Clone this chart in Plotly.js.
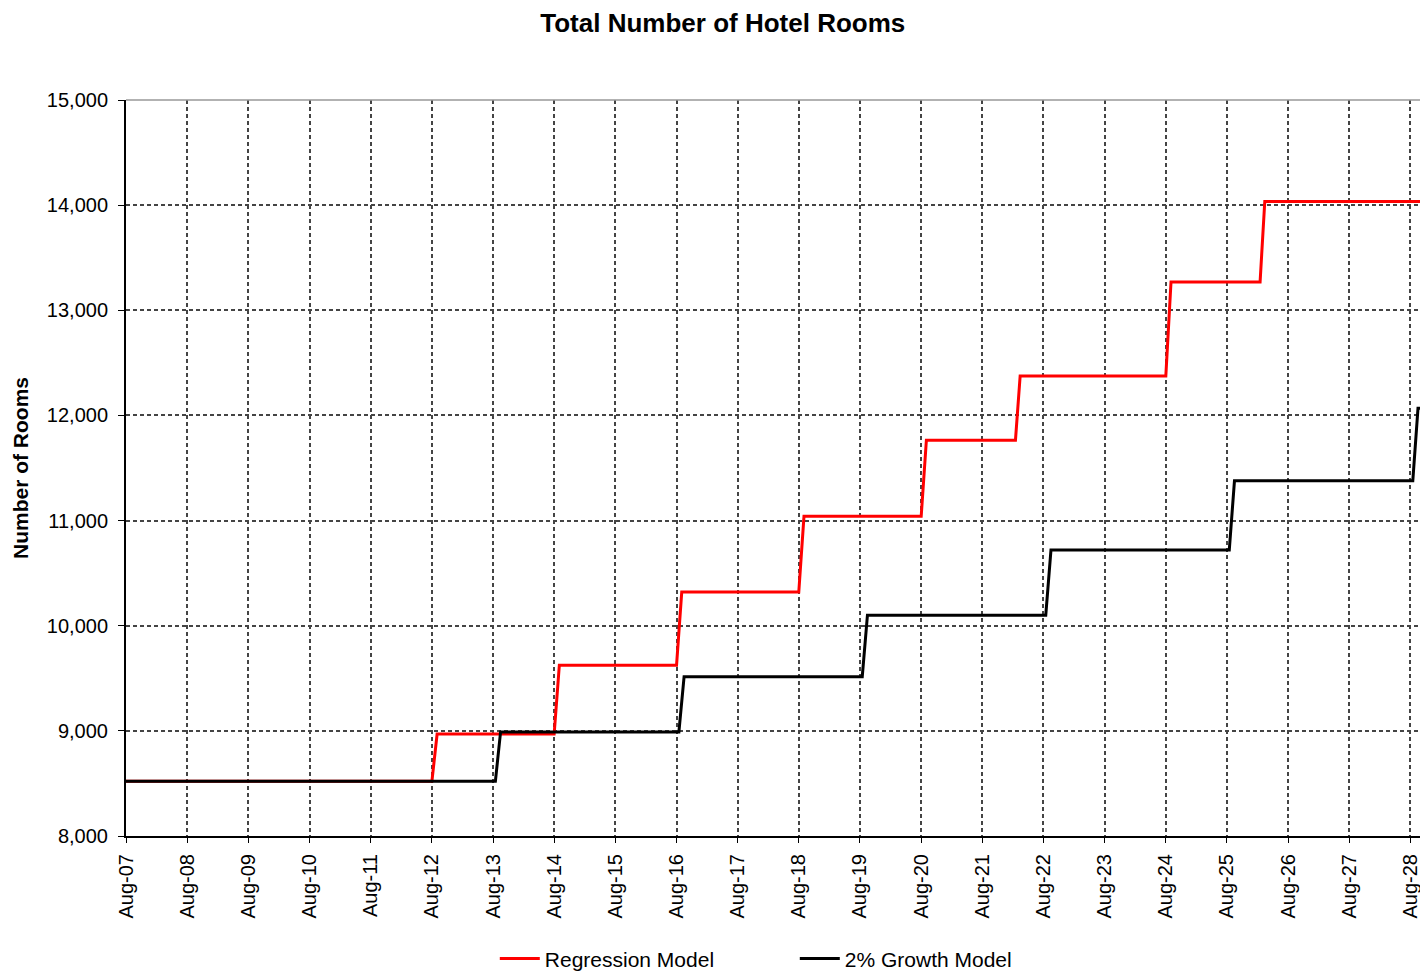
<!DOCTYPE html>
<html>
<head>
<meta charset="utf-8">
<script src="https://cdn.plot.ly/plotly-3.0.1.min.js"></script>
<style>html,body{margin:0;padding:0;background:#fff;}#chart{width:1420px;height:974px;}</style>
</head>
<body>
<div id="chart"></div>
<script>
// Step corners of each series (date, rooms)
const regressionDates = ['2007-08-01','2012-08-01','2012-09-01','2014-08-01','2014-09-01','2016-08-01','2016-09-01','2018-08-01','2018-09-01','2020-08-01','2020-09-01','2022-02-15','2022-03-15','2024-08-01','2024-09-01','2026-02-15','2026-03-15','2028-12-01'];
const regressionValues = [8520,8520,8970,8970,9625,9625,10320,10320,11040,11040,11765,11765,12375,12375,13270,13270,14035,14035];

const growthDates = ['2007-08-01','2013-08-15','2013-09-15','2016-08-15','2016-09-15','2019-08-15','2019-09-15','2022-08-15','2022-09-15','2025-08-15','2025-09-15','2028-08-15','2028-09-15','2028-12-01'];
const growthValues = [8520,8520,8990,8990,9515,9515,10100,10100,10720,10720,11378,11378,12068,12068];

const seriesNames = ['Regression Model','2% Growth Model'];
const yTickValues = [8000,9000,10000,11000,12000,13000,14000,15000];

const FONT = 'Liberation Sans, Arial, sans-serif';

const traces = [
  {x: regressionDates, y: regressionValues, name: seriesNames[0], type: 'scatter', mode: 'lines',
   line: {color: '#ff0000', width: 3}},
  {x: growthDates, y: growthValues, name: seriesNames[1], type: 'scatter', mode: 'lines',
   line: {color: '#000000', width: 3}}
];

const layout = {
  width: 1420, height: 974,
  margin: {l: 126, r: 0, t: 100, b: 138, autoexpand: false},
  paper_bgcolor: '#ffffff', plot_bgcolor: '#ffffff',
  font: {family: FONT, size: 20, color: '#000'},
  title: {text: '<b>Total Number of Hotel Rooms</b>', font: {family: FONT, size: 26, color: '#000'},
          x: 0.509, xanchor: 'center', xref: 'container', y: 0.977, yanchor: 'middle', yref: 'container'},
  xaxis: {
    type: 'date',
    range: ['2007-08-01', '2028-09-27'],
    tick0: '2007-08-01', dtick: 'M12', tickformat: '%b-%y',
    tickangle: -90,
    ticks: 'outside', ticklen: 5, tickcolor: '#000', tickwidth: 1,
    showline: true, linecolor: '#000', linewidth: 2,
    showgrid: true, gridcolor: '#444', gridwidth: 2, griddash: '4px,3px',
    zeroline: false, automargin: false,
    ticklabeloverflow: 'allow',
    tickfont: {family: FONT, size: 20, color: '#000'},
    ticklabelstandoff: 3
  },
  yaxis: {
    range: [8000, 15000],
    tickvals: yTickValues, tickformat: ',d',
    ticks: 'outside', ticklen: 6, tickcolor: '#000', tickwidth: 1,
    showline: true, linecolor: '#000', linewidth: 2,
    showgrid: true, gridcolor: '#444', gridwidth: 2, griddash: '4px,3px',
    zeroline: false, automargin: false,
    tickfont: {family: FONT, size: 20, color: '#000'},
    ticklabelstandoff: 6,
    title: {text: '<b>Number of Rooms</b>', font: {family: FONT, size: 21, color: '#000'}, standoff: 12}
  },
  showlegend: true,
  legend: {
    orientation: 'h', x: 0.285, xanchor: 'left', y: -0.139, yanchor: 'top',
    font: {family: FONT, size: 21, color: '#000'},
    bgcolor: 'rgba(0,0,0,0)', entrywidth: 245, entrywidthmode: 'pixels', itemwidth: 40
  },
  shapes: [
    {type: 'line', xref: 'paper', yref: 'paper', x0: 0, x1: 1, y0: 1, y1: 1,
     line: {color: '#999', width: 1.5}}
  ]
};

Plotly.newPlot('chart', traces, layout, {displayModeBar: false});
</script>
</body>
</html>
